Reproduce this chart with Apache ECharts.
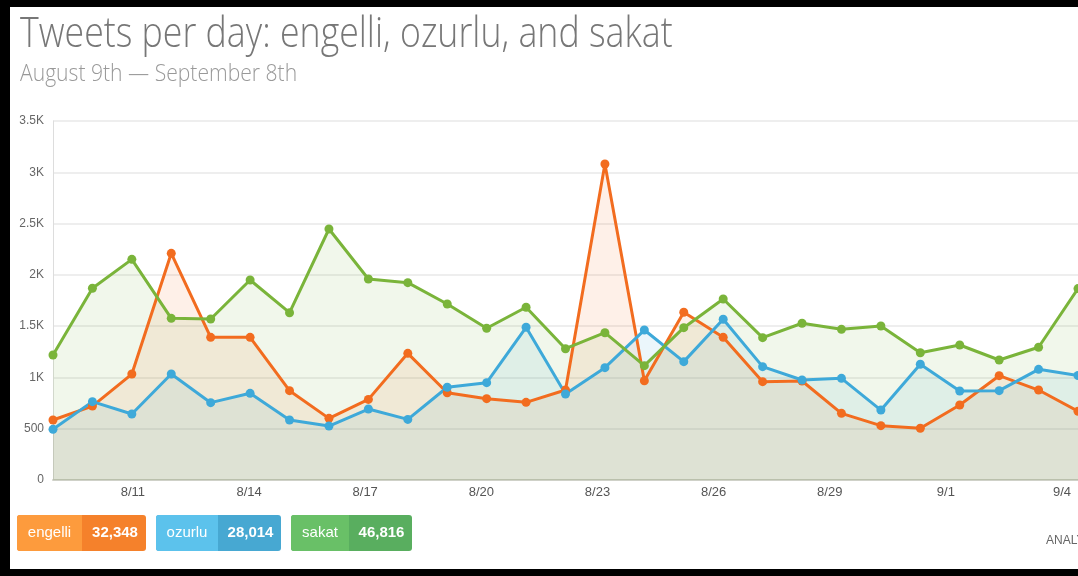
<!DOCTYPE html>
<html>
<head>
<meta charset="utf-8">
<title>Tweets per day</title>
<script src="https://cdn.jsdelivr.net/npm/echarts@6/dist/echarts.min.js"></script>
<style>
  html, body { margin: 0; padding: 0; background: #fff; }
  #chart { width: 1078px; height: 576px; }
</style>
</head>
<body>
<div id="chart"></div>
<script>
// days shown on the x axis (8/9 .. 9/4)
var days = ['8/9', '8/10', '8/11', '8/12', '8/13', '8/14', '8/15', '8/16', '8/17',
  '8/18', '8/19', '8/20', '8/21', '8/22', '8/23', '8/24', '8/25', '8/26', '8/27',
  '8/28', '8/29', '8/30', '8/31', '9/1', '9/2', '9/3', '9/4'];

// tweets per day
var engelli = [585, 721, 1033, 2210, 1391, 1391, 871, 601, 786, 1235, 851, 793, 757,
  877, 3081, 968, 1635, 1391, 959, 965, 650, 530, 504, 731, 1017, 877, 670];
var ozurlu = [494, 764, 643, 1033, 754, 845, 585, 526, 692, 591, 904, 949, 1489,
  838, 1095, 1462, 1154, 1567, 1105, 975, 991, 682, 1128, 868, 871, 1079, 1019];
var sakat = [1219, 1869, 2151, 1576, 1570, 1950, 1631, 2447, 1960, 1924, 1716, 1479, 1684,
  1280, 1436, 1115, 1485, 1765, 1388, 1528, 1469, 1501, 1241, 1316, 1170, 1294, 1866];

// totals in the badges under the chart
var names = ['engelli', 'ozurlu', 'sakat'];
var totals = ['32,348', '28,014', '46,816'];

var lineColors = ['#f26c1f', '#3ea9d9', '#7ab43a'];
var badgeLeft = ['#fd9b3d', '#5cc2ec', '#69c067'];
var badgeRight = ['#f5812b', '#47a8d2', '#59ae5f'];

var Chart = function() {
  var myChart;

  var kFormat = function(v) {
    if (v >= 1000) return (v / 1000) + 'K';
    return v;
  };

  var makeSeries = function(name, data, color) {
    return {
      name: name,
      type: 'line',
      data: data,
      symbol: 'circle',
      symbolSize: 9,
      lineStyle: { color: color, width: 3 },
      itemStyle: { color: color },
      areaStyle: { color: color, opacity: 0.1 },
      animation: false
    };
  };

  // coloured badges with name + total
  var badges = function() {
    var out = [];
    var xs = [17, 156, 291];
    var splits = [65, 62, 58];
    var widths = [129, 125, 121];
    for (var i = 0; i < names.length; i++) {
      var x = xs[i], y = 515, h = 36;
      out.push({
        type: 'rect', left: x, top: y,
        shape: { width: widths[i], height: h, r: 3 },
        style: { fill: badgeRight[i] }
      });
      out.push({
        type: 'rect', left: x, top: y,
        shape: { width: splits[i], height: h, r: [3, 0, 0, 3] },
        style: { fill: badgeLeft[i] }
      });
      out.push({
        type: 'text', x: x + splits[i] / 2, y: y + h / 2,
        style: { text: names[i], fill: '#fff', font: '15px "Liberation Sans"', align: 'center', verticalAlign: 'middle' }
      });
      out.push({
        type: 'text', x: x + splits[i] + (widths[i] - splits[i]) / 2 + 1, y: y + h / 2,
        style: { text: totals[i], fill: '#fff', font: 'bold 15px "Liberation Sans"', align: 'center', verticalAlign: 'middle' }
      });
    }
    return out;
  };

  var option = {
    backgroundColor: '#fff',
    animation: false,
    grid: [
      { left: 53, top: 121, bottom: 96, width: 1043 },
      // second grid only carries the date labels
      { left: 55.5, top: 121, bottom: 96, width: 1006.5 }
    ],
    xAxis: [{
      type: 'category',
      gridIndex: 0,
      data: days,
      boundaryGap: false,
      axisLine: { lineStyle: { color: '#cfd1c8', width: 2 } },
      axisTick: { show: false },
      axisLabel: { show: false }
    }, {
      type: 'category',
      gridIndex: 1,
      data: days,
      boundaryGap: false,
      axisLine: { show: false },
      axisTick: { show: false },
      axisLabel: {
        interval: function(i) { return i % 3 === 2; },
        color: '#555',
        fontSize: 13,
        fontFamily: 'Liberation Sans',
        margin: 6
      }
    }],
    yAxis: [{
      type: 'value',
      gridIndex: 0,
      min: 0,
      max: 3500,
      interval: 500,
      axisLine: { show: true, lineStyle: { color: '#dddddd' } },
      axisTick: { show: false },
      splitLine: { lineStyle: { color: '#eeeeee', width: 2 } },
      axisLabel: {
        formatter: kFormat,
        color: '#666',
        fontSize: 12,
        fontFamily: 'Liberation Sans',
        margin: 9
      }
    }, {
      type: 'value',
      gridIndex: 1,
      show: false
    }],
    series: [
      makeSeries('engelli', engelli, lineColors[0]),
      makeSeries('ozurlu', ozurlu, lineColors[1]),
      makeSeries('sakat', sakat, lineColors[2])
    ],
    graphic: [
      {
        type: 'text', x: 20, y: 14, scaleX: 0.85,
        style: { text: 'Tweets per day: engelli, ozurlu, and sakat', fill: '#777', font: '300 42px "Open Sans"', verticalAlign: 'top' }
      },
      {
        type: 'text', x: 20, y: 62, scaleX: 0.88,
        style: { text: 'August 9th \u2014 September 8th', fill: '#999', font: '300 24px "Open Sans"', verticalAlign: 'top' }
      },
      {
        type: 'text', x: 1046, y: 541,
        style: { text: 'ANALYTICS', fill: '#666', font: '12px "Liberation Sans"', verticalAlign: 'middle' }
      },
      // black frame of the screenshot
      { type: 'rect', left: 0, top: 0, z: 100, shape: { width: 1078, height: 7 }, style: { fill: '#000' } },
      { type: 'rect', left: 0, top: 0, z: 100, shape: { width: 10, height: 576 }, style: { fill: '#000' } },
      { type: 'rect', left: 0, top: 569, z: 100, shape: { width: 1078, height: 7 }, style: { fill: '#000' } }
    ].concat(badges())
  };

  return {
    init: function(id) {
      myChart = echarts.init(document.getElementById(id));
      myChart.setOption(option);
      return myChart;
    }
  };
}();

Chart.init('chart');
</script>
</body>
</html>
